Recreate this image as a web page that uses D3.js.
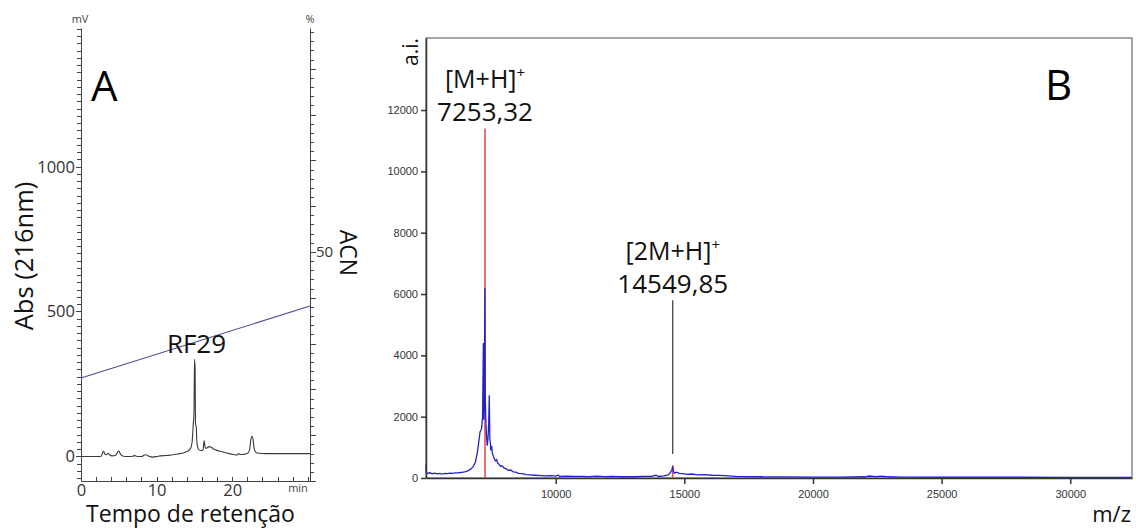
<!DOCTYPE html>
<html>
<head>
<meta charset="utf-8">
<script src="https://cdn.jsdelivr.net/npm/d3@7"></script>
<style>
  body { margin: 0; background: #fff; }
  svg { display: block; font-family: "Open Sans", sans-serif; }
</style>
</head>
<body>
<svg id="chart" width="1136" height="529"></svg>
<script>
// ---- Panel A: HPLC chromatogram ----
// retention time (min) and absorbance at 216 nm (mV)
const hplcTime = [0, 1, 2, 2.7, 2.85, 3.0, 3.15, 3.35, 3.6, 3.8,
  4.1, 4.6, 4.85, 5.0, 5.2, 5.5, 6.2, 6.9, 7.05, 7.3,
  8.0, 8.4, 8.6, 8.9, 9.5, 10.2, 11, 11.6, 12.1, 12.6,
  13.1, 13.6, 14.0, 14.5, 14.7, 14.85, 14.95, 15.02, 15.1, 15.15,
  15.25, 15.35, 15.55, 15.9, 16.15, 16.3, 16.4, 16.5, 16.7, 16.95,
  17.2, 17.5, 17.9, 18.4, 19.0, 19.6, 20.2, 20.6, 20.85, 21.1,
  21.6, 22.0, 22.3, 22.45, 22.6, 22.75, 22.9, 23.1, 23.5, 24.5,
  26, 28, 30.3];
const hplcAbs = [0, 0, 0, 1, 14, 18, 8, 6, 11, 5,
  2, 4, 16, 19, 9, 2, 0, 1, 4, 1,
  0, 5, 6, 2, -2, 1, 3, 4, 6, 8,
  10, 13, 17, 28, 50, 110, 150, 335, 300, 115,
  100, 45, 25, 20, 24, 55, 35, 28, 30, 34,
  32, 27, 22, 18, 14, 10, 7, 5, 10, 7,
  8, 10, 22, 55, 70, 62, 30, 15, 11, 10,
  10, 10, 10];
// acetonitrile gradient (%)
const gradientTime = [0, 30.3];
const gradientAcn = [22.5, 38.2];
const absTicks = [0, 500, 1000];
const timeTicks = [0, 10, 20];
const acnTicks = [50];
const mainPeak = { name: "RF29", time: 15.02, abs: 335 };

// ---- Panel B: MALDI-TOF spectrum ----
const msMz = [4960, 4968, 5000, 5100, 5200, 5300, 5400, 5500, 5600, 5700,
  5800, 5900, 6000, 6100, 6200, 6300, 6400, 6500, 6600, 6700,
  6800, 6880, 6950, 7000, 7060, 7120, 7160, 7190, 7205, 7225,
  7250, 7265, 7285, 7310, 7340, 7370, 7395, 7420, 7440, 7460,
  7480, 7510, 7540, 7580, 7620, 7660, 7700, 7750, 7800, 7860,
  7920, 8000, 8080, 8150, 8250, 8350, 8450, 8550, 8700, 8850,
  9000, 9200, 9400, 9600, 9800, 10000, 10100, 10150, 10400, 10700,
  11000, 11300, 11600, 11900, 12200, 12500, 12800, 13100, 13400, 13700,
  13900, 14000, 14200, 14350, 14450, 14520, 14549, 14580, 14620, 14700,
  14800, 14950, 15100, 15300, 15500, 15800, 16100, 16400, 16700, 17000,
  17500, 18000, 19000, 20000, 21000, 22000, 22200, 22400, 22700, 22900,
  23500, 25000, 28000, 30000, 32400];
const msIntensity = [430, 180, 150, 170, 140, 160, 135, 150, 130, 150,
  140, 160, 150, 170, 165, 180, 190, 210, 240, 290,
  380, 520, 800, 1100, 1500, 1600, 2000, 4400, 1900, 2300,
  6200, 2600, 1900, 1400, 1050, 1300, 1750, 2700, 1300, 1150,
  900, 1050, 800, 700, 620, 560, 600, 480, 450, 380,
  400, 320, 300, 250, 260, 200, 190, 150, 140, 110,
  100, 90, 80, 70, 80, 60, 100, 50, 60, 50,
  55, 45, 60, 45, 50, 40, 45, 40, 50, 55,
  90, 50, 70, 90, 160, 280, 380, 220, 160, 190,
  150, 140, 120, 130, 100, 110, 90, 85, 70, 55,
  45, 40, 35, 30, 30, 40, 65, 45, 60, 40,
  30, 25, 25, 22, 20];
const mzTicks = [10000, 15000, 20000, 25000, 30000];
const intensityTicks = [0, 2000, 4000, 6000, 8000, 10000, 12000];
// annotated peaks
const peakMz = [7253.32, 14549.85];
const peakStick = [11400, 420];
const peakLeaderFrom = [null, 780];
const peakLeaderTo = [null, 5800];
const peakIon = ["[M+H]", "[2M+H]"];
const peakLabel = ["7253,32", "14549,85"];

const svg = d3.select("#chart");
svg.append("rect").attr("width", 1136).attr("height", 529).attr("fill", "#fff");

function styleAxis(g, stroke, size, fill, family) {
  g.selectAll("path, line").attr("stroke", stroke);
  g.selectAll("text").attr("font-size", size).attr("fill", fill)
    .attr("font-family", family);
}

// tick marks only, no labels
function tickOnly(g, stroke) {
  g.selectAll("text").remove();
  g.selectAll("path, line").attr("stroke", stroke);
}

// ================= Panel A =================
const xA = d3.scaleLinear().domain([0, 30.3]).range([81, 310]);
const yA = d3.scaleLinear().domain([-84.5, 1477.6]).range([481, 28]);
const yAcn = d3.scaleLinear().domain([0, 98.9]).range([481, 28]);
// rounded copies so that the dense minor ticks land on whole pixels
const xAr = xA.copy().interpolate(d3.interpolateRound);
const yAr = yA.copy().interpolate(d3.interpolateRound);
const yAcnR = yAcn.copy().interpolate(d3.interpolateRound);
const gA = svg.append("g");

// left axis (mV)
const leftMinor = gA.append("g").attr("transform", "translate(81,0)")
  .call(d3.axisLeft(yAr).tickValues(d3.range(-75, 1476, 25)).tickSize(4).tickSizeOuter(0));
tickOnly(leftMinor, "#444");
const leftMajor = gA.append("g").attr("transform", "translate(81,0)")
  .call(d3.axisLeft(yAr).tickValues(absTicks).tickSize(5).tickPadding(1).tickSizeOuter(0).tickFormat(d3.format("d")));
styleAxis(leftMajor, "#444", "16.5px", "#333", "Open Sans");
leftMajor.select(".domain").remove();

// right axis (% ACN)
const rightMinor = gA.append("g").attr("transform", "translate(310,0)")
  .call(d3.axisRight(yAcnR).tickValues(d3.range(0, 99, 2)).tickSize(4).tickSizeOuter(0));
tickOnly(rightMinor, "#444");
const rightMajor = gA.append("g").attr("transform", "translate(310,0)")
  .call(d3.axisRight(yAcnR).tickValues(d3.range(0, 99, 10)).tickSize(6).tickSizeOuter(0)
    .tickFormat(d => acnTicks.includes(d) ? d : ""));
styleAxis(rightMajor, "#444", "15px", "#333", "Open Sans");
rightMajor.select(".domain").remove();
rightMajor.selectAll("text").attr("x", 6).filter(d => !acnTicks.includes(d)).remove();

// bottom axis (min)
const bottomMinor = gA.append("g").attr("transform", "translate(0,481)")
  .call(d3.axisTop(xAr).tickValues(d3.range(0, 30.3, 2)).tickSize(4).tickSizeOuter(0));
tickOnly(bottomMinor, "#444");
const bottomLabels = gA.append("g").attr("transform", "translate(0,481)")
  .call(d3.axisBottom(xA).tickValues(timeTicks).tickSize(0).tickPadding(3));
styleAxis(bottomLabels, "#444", "16.5px", "#333", "Open Sans");
bottomLabels.select(".domain").remove();

// gradient line
const gradLine = d3.line().x(d => xA(d[0])).y(d => yAcn(d[1]));
gA.append("path")
  .datum(gradientTime.map((t, i) => [t, gradientAcn[i]]))
  .attr("d", gradLine).attr("fill", "none").attr("stroke", "#4b4b99").attr("stroke-width", 1.1);

// chromatogram
const chromLine = d3.line().x(d => xA(d[0])).y(d => yA(d[1])).curve(d3.curveMonotoneX);
gA.append("path")
  .datum(hplcTime.map((t, i) => [t, hplcAbs[i]]))
  .attr("d", chromLine).attr("fill", "none").attr("stroke", "#3a3a3a").attr("stroke-width", 1.1);

// texts panel A
gA.append("text").attr("x", 80).attr("y", 23).attr("text-anchor", "middle")
  .attr("font-size", "11px").attr("fill", "#444").text("mV");
gA.append("text").attr("x", 310).attr("y", 23).attr("text-anchor", "middle")
  .attr("font-size", "11px").attr("fill", "#444").text("%");
gA.append("text").attr("x", 298).attr("y", 492).attr("text-anchor", "middle")
  .attr("font-size", "11px").attr("fill", "#444").text("min");
gA.append("text").attr("x", 91).attr("y", 101)
  .attr("font-size", "42px").attr("fill", "#000").text("A");
gA.append("text").attr("transform", "translate(33,256) rotate(-90)").attr("text-anchor", "middle")
  .attr("font-size", "25.5px").attr("fill", "#111").text("Abs (216nm)");
gA.append("text").attr("transform", "translate(340,253) rotate(90)").attr("text-anchor", "middle")
  .attr("font-size", "23px").attr("fill", "#111").text("ACN");
gA.append("text").attr("x", (xA.range()[0] + xA.range()[1]) / 2 - 5).attr("y", 522).attr("text-anchor", "middle")
  .attr("font-size", "23px").attr("fill", "#111").text("Tempo de retenção");
gA.append("text").attr("x", xA(mainPeak.time) + 2).attr("y", yA(mainPeak.abs) - 6).attr("text-anchor", "middle")
  .attr("font-size", "26px").attr("fill", "#111").text(mainPeak.name);

// ================= Panel B =================
const xB = d3.scaleLinear().domain([4960, 32400]).range([426, 1132]);
const yB = d3.scaleLinear().domain([0, 14350]).range([478, 38]);
const gB = svg.append("g");

gB.append("rect")
  .attr("x", xB.range()[0]).attr("y", yB.range()[1])
  .attr("width", xB.range()[1] - xB.range()[0]).attr("height", yB.range()[0] - yB.range()[1])
  .attr("fill", "none").attr("stroke", "#777").attr("stroke-width", 1.3);

const xAxisB = gB.append("g").attr("transform", "translate(0,478)")
  .call(d3.axisBottom(xB).tickValues(mzTicks).tickSize(6).tickPadding(6).tickSizeOuter(0).tickFormat(d3.format("d")));
styleAxis(xAxisB, "#333", "11px", "#333", "Liberation Sans, Arial, sans-serif");
xAxisB.selectAll("path, line").attr("stroke-width", 1.5);

// red centroid sticks
gB.selectAll(".stick").data(peakMz).join("line").attr("class", "stick")
  .attr("x1", d => xB(d)).attr("x2", d => xB(d))
  .attr("y1", yB(0)).attr("y2", (d, i) => yB(peakStick[i]))
  .attr("stroke", "#e05050").attr("stroke-width", 1.6);

// spectrum
const specLine = d3.line().x(d => xB(d[0])).y(d => yB(d[1]));
gB.append("path")
  .datum(msMz.map((m, i) => [m, msIntensity[i]]))
  .attr("d", specLine).attr("fill", "none").attr("stroke", "#2323c8").attr("stroke-width", 1.3);

// leader lines
gB.selectAll(".leader").data(peakMz.filter((d, i) => peakLeaderFrom[i] !== null)).join("line").attr("class", "leader")
  .attr("x1", d => xB(d)).attr("x2", d => xB(d))
  .attr("y1", d => yB(peakLeaderFrom[peakMz.indexOf(d)]))
  .attr("y2", d => yB(peakLeaderTo[peakMz.indexOf(d)]))
  .attr("stroke", "#333").attr("stroke-width", 1.2);

// peak labels
peakMz.forEach((m, i) => {
  const top = peakLeaderTo[i] !== null ? peakLeaderTo[i] : peakStick[i];
  const ion = gB.append("text").attr("x", xB(m)).attr("y", yB(top) - 40)
    .attr("text-anchor", "middle").attr("font-size", "25px").attr("fill", "#111");
  ion.append("tspan").text(peakIon[i]);
  ion.append("tspan").attr("font-size", "15px").attr("dy", -10).text("+");
  gB.append("text").attr("x", xB(m)).attr("y", yB(top) - 7)
    .attr("text-anchor", "middle").attr("font-size", "26px").attr("fill", "#111").text(peakLabel[i]);
});

const yAxisB = gB.append("g").attr("transform", "translate(426,0)")
  .call(d3.axisLeft(yB).tickValues(intensityTicks).tickSize(5).tickPadding(3).tickSizeOuter(0).tickFormat(d3.format("d")));
styleAxis(yAxisB, "#333", "11px", "#333", "Liberation Sans, Arial, sans-serif");
yAxisB.selectAll("path, line").attr("stroke-width", 1.5);

gB.append("text").attr("transform", "translate(418,52) rotate(-90)").attr("text-anchor", "middle")
  .attr("font-size", "21px").attr("fill", "#111").text("a.i.");
gB.append("text").attr("x", 1131).attr("y", 522).attr("text-anchor", "end")
  .attr("font-size", "22px").attr("fill", "#111").text("m/z");
gB.append("text").attr("x", 1045).attr("y", 100)
  .attr("font-size", "42px").attr("fill", "#000").text("B");
</script>
</body>
</html>
